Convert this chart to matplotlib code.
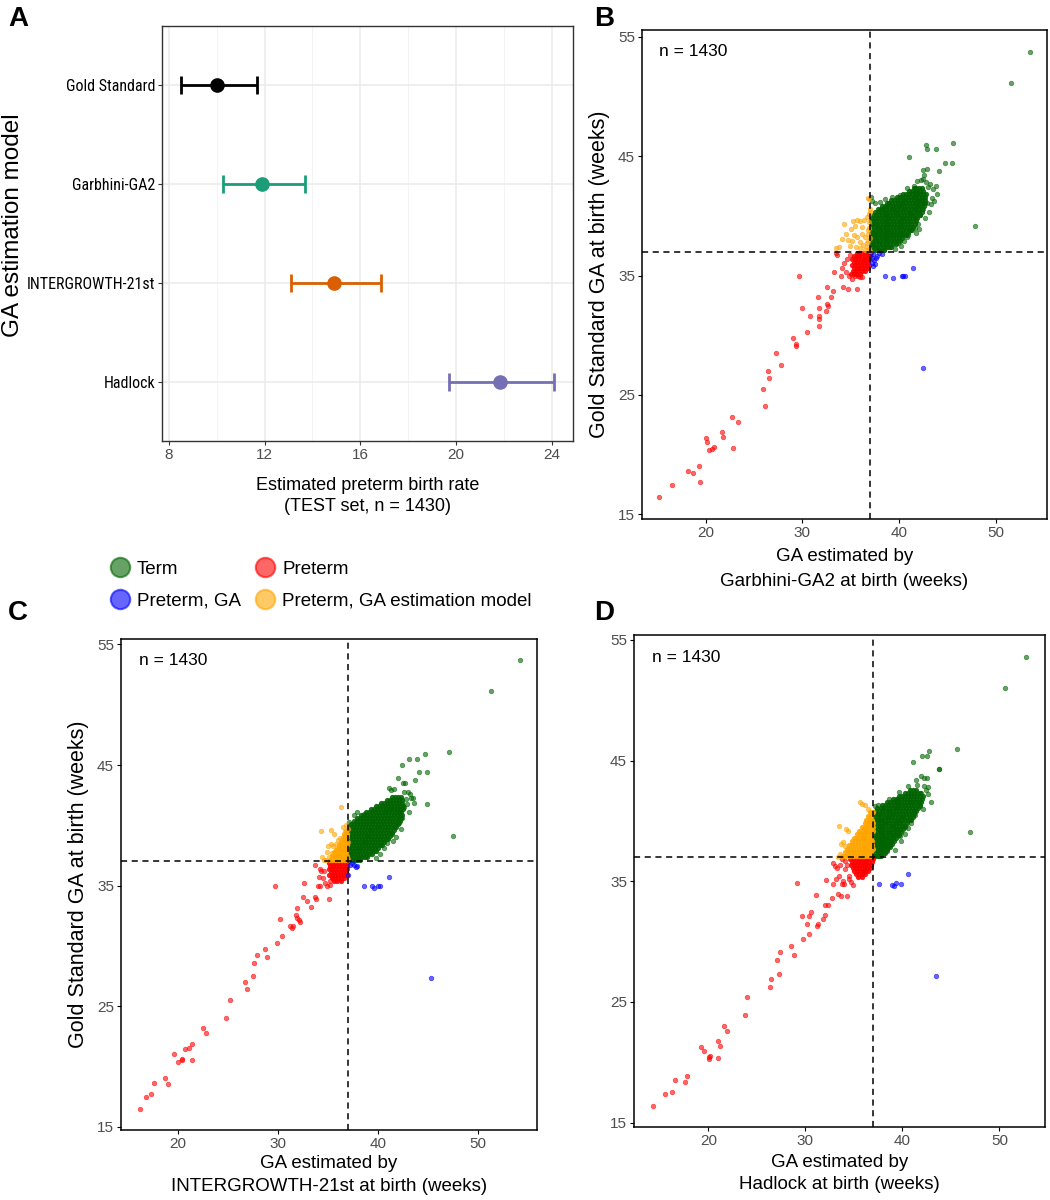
import matplotlib.pyplot as plt
from matplotlib import font_manager
from matplotlib.font_manager import FontProperties
from matplotlib.lines import Line2D

plt.rcParams['font.family'] = ['Liberation Sans', 'DejaVu Sans']

# ---- panel A: estimated preterm birth rate with CI ----
models = ["Gold Standard", "Garbhini-GA2", "INTERGROWTH-21st", "Hadlock"]
rate = [10.0, 11.9, 14.9, 21.85]
rate_lo = [8.5, 10.25, 13.1, 19.7]
rate_hi = [11.7, 13.7, 16.85, 24.07]
model_colors = ["black", "#1B9E77", "#D95F02", "#7570B3"]

# ---- panel B: Garbhini-GA2 (x) vs gold standard (y) ----
b_term = [(53.5, 53.75), (51.6, 51.1), (47.9, 39.15), (45.6, 46.1), (42.75, 45.95), (42.85, 45.55),
          (43.8, 45.55), (41.0, 44.95), (44.7, 44.4), (45.45, 44.4), (44.15, 43.75), (42.85, 43.95),
          (42.5, 43.8), (42.6, 43.45), (42.45, 43.1), (42.8, 42.85), (43.2, 42.7), (43.55, 42.2),
          (43.9, 41.85), (43.4, 41.45), (42.9, 41.05), (42.5, 40.6), (42.2, 40.1), (42.0, 39.3),
          (41.3, 38.8), (40.85, 38.2), (39.9, 37.7), (39.1, 37.4), (38.4, 37.15), (37.5, 41.1),
          (37.15, 41.25), (38.0, 41.15), (38.55, 41.4), (39.25, 41.55), (40.1, 41.7), (40.8, 42.35),
          (41.5, 42.5), (41.9, 42.9), (42.3, 43.0), (43.0, 42.4), (37.05, 41.6), (41.8, 38.6),
          (40.5, 37.9), (39.6, 37.2), (43.3, 41.0), (43.6, 41.2), (43.1, 40.3), (42.7, 39.8),
          (41.6, 39.0), (40.9, 38.4), (40.2, 37.5), (43.8, 42.5), (42.1, 38.9)]
b_term_rows = {
    37.1: [37.1, 37.35, 37.6, 37.9, 38.15, 38.45],
    37.35: [37.2, 37.5, 37.75, 38.05, 38.3, 38.6, 38.9, 39.2],
    37.6: [37.1, 37.35, 37.65, 37.9, 38.2, 38.5, 38.75, 39.05, 39.35, 39.7],
    37.85: [37.25, 37.5, 37.8, 38.05, 38.35, 38.6, 38.9, 39.2, 39.5, 39.8, 40.1],
    38.1: [37.1, 37.4, 37.65, 37.95, 38.2, 38.5, 38.8, 39.05, 39.35, 39.65, 39.95, 40.3],
    38.35: [37.2, 37.5, 37.8, 38.1, 38.35, 38.65, 38.95, 39.2, 39.5, 39.8, 40.1, 40.45, 40.7],
    38.6: [37.1, 37.35, 37.65, 37.9, 38.2, 38.5, 38.8, 39.1, 39.35, 39.65, 39.95, 40.25, 40.55, 40.9],
    38.85: [37.2, 37.5, 37.8, 38.05, 38.35, 38.65, 38.9, 39.2, 39.5, 39.8, 40.1, 40.4, 40.7, 41.0, 41.25],
    39.1: [37.1, 37.4, 37.7, 37.95, 38.25, 38.55, 38.8, 39.1, 39.4, 39.65, 39.95, 40.25, 40.55, 40.85, 41.15, 41.45],
    39.35: [37.2, 37.5, 37.75, 38.05, 38.35, 38.6, 38.9, 39.2, 39.5, 39.8, 40.05, 40.35, 40.65, 40.95, 41.25, 41.6],
    39.6: [37.1, 37.35, 37.65, 37.95, 38.2, 38.5, 38.8, 39.1, 39.35, 39.65, 39.95, 40.25, 40.5, 40.8, 41.1, 41.4, 41.75],
    39.85: [37.25, 37.55, 37.85, 38.1, 38.4, 38.7, 39.0, 39.25, 39.55, 39.85, 40.15, 40.4, 40.7, 41.0, 41.3, 41.6, 41.9],
    40.1: [37.3, 37.6, 37.9, 38.2, 38.5, 38.75, 39.05, 39.35, 39.65, 39.9, 40.2, 40.5, 40.8, 41.1, 41.35, 41.65, 41.95, 42.2],
    40.35: [37.5, 37.8, 38.1, 38.4, 38.65, 38.95, 39.25, 39.55, 39.8, 40.1, 40.4, 40.7, 41.0, 41.25, 41.55, 41.85, 42.1, 42.4],
    40.6: [37.8, 38.1, 38.35, 38.65, 38.95, 39.25, 39.5, 39.8, 40.1, 40.4, 40.65, 40.95, 41.25, 41.55, 41.8, 42.1, 42.4],
    40.85: [38.2, 38.5, 38.8, 39.1, 39.4, 39.65, 39.95, 40.25, 40.55, 40.85, 41.1, 41.4, 41.7, 42.0, 42.3, 42.55],
    41.1: [38.7, 39.0, 39.3, 39.55, 39.85, 40.15, 40.45, 40.7, 41.0, 41.3, 41.6, 41.9, 42.15, 42.45, 42.7],
    41.35: [39.2, 39.5, 39.8, 40.1, 40.4, 40.65, 40.95, 41.25, 41.55, 41.85, 42.1, 42.4, 42.7],
    41.6: [39.8, 40.1, 40.35, 40.65, 40.95, 41.25, 41.5, 41.8, 42.1, 42.4, 42.7],
    41.85: [40.4, 40.7, 41.0, 41.3, 41.6, 41.9, 42.2, 42.5, 42.75],
    42.1: [41.0, 41.3, 41.6, 41.9, 42.2, 42.5],
    42.35: [41.5, 41.8, 42.1, 42.35],
}
b_pre = [(15.17, 16.47), (16.48, 17.46), (18.17, 18.64), (18.66, 18.51), (19.28, 19.03), (19.45, 17.68),
         (20.03, 21.39), (20.1, 21.04), (20.34, 20.4), (20.62, 20.46), (20.9, 20.62), (21.66, 21.9),
         (21.8, 21.49), (22.72, 23.15), (22.83, 20.53), (23.34, 22.73), (25.9, 25.54), (26.17, 24.04),
         (26.48, 26.98), (26.52, 26.41), (27.24, 28.55), (27.76, 27.49), (29.03, 29.76), (29.34, 29.25),
         (29.34, 29.09), (29.62, 34.97), (29.97, 32.28), (30.48, 30.3), (30.79, 31.65), (31.66, 33.18),
         (31.69, 32.25), (31.69, 31.65), (31.76, 31.39), (31.69, 30.81), (32.45, 32.0), (32.55, 32.64),
         (32.62, 32.44), (32.55, 34.04), (32.97, 33.18), (33.2, 33.72), (33.28, 35.26), (33.48, 36.92),
         (33.55, 36.69), (33.97, 34.97), (34.1, 35.64), (34.17, 34.04), (34.76, 33.85), (34.86, 35.0),
         (35.69, 33.85), (35.97, 34.84), (34.6, 36.4), (34.9, 36.75), (34.3, 36.05), (34.5, 35.3),
         (35.1, 34.75), (35.4, 34.95), (35.75, 35.0), (36.2, 34.9)]
b_pre_rows = {
    36.85: [35.6, 35.9, 36.2, 36.5, 36.75, 36.95],
    36.6: [35.3, 35.6, 35.9, 36.2, 36.45, 36.75, 36.95],
    36.35: [35.15, 35.45, 35.75, 36.05, 36.35, 36.6, 36.9],
    36.1: [35.35, 35.65, 35.95, 36.25, 36.5, 36.8],
    35.85: [35.1, 35.45, 35.75, 36.05, 36.35, 36.65, 36.9],
    35.6: [35.3, 35.6, 35.9, 36.2, 36.5, 36.8],
    35.35: [35.2, 35.5, 35.8, 36.15, 36.5],
    35.1: [35.05, 35.35, 35.65, 36.0],
}
b_pga = [(37.28, 36.76), (37.69, 36.66), (38.21, 36.82), (37.41, 36.28), (37.52, 35.96), (37.2, 36.05),
         (37.1, 36.9), (37.15, 36.5), (37.9, 36.85), (37.6, 36.45), (37.3, 35.8), (38.59, 34.94),
         (39.41, 34.78), (40.28, 34.94), (40.45, 34.94), (40.66, 34.94), (41.48, 35.67), (42.52, 27.27)]
b_pgm = [(36.76, 41.52), (36.93, 41.39), (34.34, 39.31), (35.2, 39.54), (35.62, 39.63), (35.97, 39.54),
         (36.38, 39.63), (36.66, 39.86), (35.45, 39.15), (35.0, 38.93), (36.21, 39.09), (34.52, 38.51),
         (34.07, 38.04), (33.83, 37.4), (33.45, 37.3), (34.76, 37.94), (35.1, 37.88), (35.62, 38.19),
         (35.97, 37.81), (36.48, 38.19), (36.31, 37.56), (36.66, 37.4), (36.83, 38.83), (35.55, 37.4),
         (35.97, 37.3), (36.76, 37.88), (36.9, 37.24), (36.86, 40.11), (36.97, 40.59), (36.9, 39.5),
         (36.8, 38.5), (36.95, 38.1), (36.7, 37.7), (36.95, 37.05), (36.5, 37.1), (36.9, 39.0),
         (36.95, 40.3), (36.2, 38.5), (35.3, 38.4), (34.9, 37.5)]
b_pgm_rows = {}

# ---- panel C: INTERGROWTH-21st (x) vs gold standard (y) ----
c_term = [(54.17, 53.74), (51.33, 51.13), (47.53, 39.15), (47.13, 46.12), (44.73, 45.94), (43.93, 45.51),
          (43.07, 45.54), (42.4, 44.98), (44.13, 44.43), (44.9, 44.43), (42.0, 43.91), (42.5, 43.54),
          (42.73, 43.54), (43.7, 43.76), (41.07, 43.08), (42.63, 42.77), (42.97, 42.77), (43.23, 42.62),
          (44.93, 41.76), (43.57, 41.85), (43.07, 41.14), (42.07, 41.08), (42.4, 40.62), (42.07, 40.16),
          (41.83, 39.02), (41.4, 39.24), (40.2, 37.64), (39.37, 37.86), (38.23, 37.4), (37.57, 40.84),
          (37.9, 41.08), (38.57, 40.93), (37.1, 40.3), (42.8, 42.2), (43.3, 42.3), (41.3, 42.9),
          (41.6, 43.0), (40.9, 38.5), (39.8, 37.3), (42.6, 41.5), (42.3, 39.7), (41.5, 38.7),
          (40.6, 38.1), (43.5, 42.3), (42.9, 41.8)]
c_term_rows = {
    37.1: [37.1, 37.4, 37.7, 37.95, 38.25],
    37.35: [37.2, 37.5, 37.8, 38.1, 38.4, 38.7, 38.95],
    37.6: [37.1, 37.35, 37.65, 37.95, 38.25, 38.55, 38.85, 39.15, 39.45],
    37.85: [37.25, 37.55, 37.85, 38.1, 38.4, 38.7, 39.0, 39.3, 39.6, 39.85],
    38.1: [37.1, 37.4, 37.7, 38.0, 38.25, 38.55, 38.85, 39.15, 39.45, 39.75, 40.05],
    38.35: [37.25, 37.55, 37.85, 38.15, 38.45, 38.7, 39.0, 39.3, 39.6, 39.9, 40.2, 40.4],
    38.6: [37.1, 37.4, 37.7, 38.0, 38.3, 38.6, 38.85, 39.15, 39.45, 39.75, 40.05, 40.35, 40.65],
    38.85: [37.25, 37.55, 37.85, 38.15, 38.45, 38.75, 39.0, 39.3, 39.6, 39.9, 40.2, 40.5, 40.8, 41.0],
    39.1: [37.1, 37.4, 37.7, 38.0, 38.3, 38.6, 38.9, 39.15, 39.45, 39.75, 40.05, 40.35, 40.65, 40.95, 41.25],
    39.35: [37.25, 37.55, 37.85, 38.15, 38.45, 38.75, 39.05, 39.3, 39.6, 39.9, 40.2, 40.5, 40.8, 41.1, 41.45],
    39.6: [37.1, 37.4, 37.7, 38.0, 38.3, 38.6, 38.9, 39.2, 39.45, 39.75, 40.05, 40.35, 40.65, 40.95, 41.25, 41.6],
    39.85: [37.2, 37.5, 37.8, 38.1, 38.4, 38.7, 39.0, 39.3, 39.6, 39.9, 40.15, 40.45, 40.75, 41.05, 41.35, 41.65, 41.85],
    40.1: [37.35, 37.65, 37.95, 38.25, 38.55, 38.85, 39.15, 39.45, 39.7, 40.0, 40.3, 40.6, 40.9, 41.2, 41.5, 41.8, 42.0],
    40.35: [37.6, 37.9, 38.2, 38.5, 38.8, 39.1, 39.4, 39.65, 39.95, 40.25, 40.55, 40.85, 41.15, 41.45, 41.75, 42.05, 42.2],
    40.6: [37.95, 38.25, 38.55, 38.85, 39.15, 39.45, 39.75, 40.0, 40.3, 40.6, 40.9, 41.2, 41.5, 41.8, 42.1, 42.3],
    40.85: [38.35, 38.65, 38.95, 39.25, 39.55, 39.85, 40.15, 40.4, 40.7, 41.0, 41.3, 41.6, 41.9, 42.2, 42.4],
    41.1: [38.8, 39.1, 39.4, 39.7, 40.0, 40.3, 40.6, 40.85, 41.15, 41.45, 41.75, 42.05, 42.35],
    41.35: [39.3, 39.6, 39.9, 40.2, 40.5, 40.8, 41.1, 41.35, 41.65, 41.95, 42.25, 42.5],
    41.6: [39.8, 40.1, 40.4, 40.7, 41.0, 41.3, 41.6, 41.9, 42.2, 42.5],
    41.85: [40.35, 40.65, 40.95, 41.25, 41.55, 41.85, 42.15, 42.45],
    42.1: [40.9, 41.2, 41.5, 41.8, 42.1, 42.4],
    42.35: [41.4, 41.7, 42.0, 42.3],
}
c_pre = [(16.2, 16.5), (16.83, 17.49), (17.3, 17.73), (17.63, 18.66), (18.77, 19.06), (19.03, 18.53),
         (19.63, 21.05), (20.03, 20.41), (20.43, 20.5), (20.47, 20.65), (20.77, 21.42), (21.17, 21.51),
         (21.4, 21.88), (21.4, 20.5), (22.53, 23.17), (22.8, 22.74), (24.83, 24.03), (25.2, 25.51),
         (26.77, 26.98), (26.97, 26.4), (27.57, 27.5), (27.63, 28.55), (27.93, 29.25), (28.7, 29.78),
         (28.97, 29.07), (29.7, 34.97), (29.93, 30.27), (30.23, 32.24), (30.43, 30.79), (31.23, 31.62),
         (31.43, 31.5), (31.57, 31.68), (31.8, 32.57), (31.9, 32.3), (32.13, 32.17), (32.23, 31.96),
         (31.97, 33.16), (32.6, 35.25), (32.53, 34.05), (32.97, 33.71), (33.27, 33.19), (33.73, 34.02),
         (33.8, 33.86), (33.97, 34.94), (34.17, 34.94), (35.1, 33.86), (34.07, 35.71), (33.73, 36.72),
         (34.17, 36.41), (34.3, 36.17), (34.63, 36.17), (34.5, 35.65), (34.73, 35.25), (34.9, 34.94),
         (35.17, 35.06), (35.23, 35.4), (35.43, 35.71)]
c_pre_rows = {
    36.85: [35.1, 35.4, 35.7, 36.0, 36.3, 36.6, 36.9],
    36.6: [35.25, 35.55, 35.85, 36.15, 36.45, 36.75, 36.95],
    36.35: [35.1, 35.4, 35.7, 36.0, 36.3, 36.6, 36.9],
    36.1: [35.3, 35.6, 35.9, 36.2, 36.5, 36.8],
    35.85: [35.15, 35.45, 35.75, 36.05, 36.35, 36.65, 36.9],
    35.6: [35.4, 35.7, 36.0, 36.3, 36.6],
    35.35: [35.6, 35.95, 36.3],
}
c_pga = [(37.43, 36.86), (37.77, 36.58), (37.6, 36.7), (37.9, 36.63), (37.03, 35.9), (37.2, 36.75),
         (38.57, 34.94), (39.43, 34.94), (39.57, 34.78), (40.0, 34.94), (40.17, 34.94), (41.1, 35.71),
         (45.27, 27.32)]
c_pgm = [(36.27, 41.54), (34.27, 39.49), (35.33, 39.61), (35.57, 39.3), (35.97, 38.75), (36.5, 39.85),
         (36.73, 39.55), (35.0, 38.32), (35.27, 38.47), (35.53, 38.26), (35.77, 38.47), (36.1, 38.16),
         (36.43, 38.47), (36.73, 38.78), (36.9, 39.24), (34.87, 37.77), (35.13, 37.4), (35.43, 37.7),
         (35.77, 37.4), (36.1, 37.55), (36.43, 37.24), (36.73, 37.55), (36.97, 37.24), (36.83, 38.0),
         (36.57, 37.86), (36.97, 38.62), (37.0, 39.7), (36.23, 38.93), (35.83, 37.95), (34.63, 37.15),
         (34.4, 37.4), (34.8, 37.1), (36.7, 39.1), (36.95, 39.0), (36.85, 40.0)]
c_pgm_rows = {
    37.15: [35.2, 35.5, 35.8, 36.1, 36.4, 36.7, 36.95],
    37.45: [35.4, 35.7, 36.0, 36.3, 36.6, 36.9],
    37.75: [35.6, 35.9, 36.2, 36.5, 36.8],
    38.05: [35.9, 36.2, 36.5, 36.8],
    38.35: [36.1, 36.4, 36.7, 36.95],
    38.65: [36.3, 36.6, 36.9],
    38.95: [36.5, 36.8],
    39.25: [36.6, 36.9],
    39.55: [36.8],
}

# ---- panel D: Hadlock (x) vs gold standard (y) ----
d_term = [(52.78, 53.62), (50.62, 51.01), (46.98, 39.05), (45.6, 45.98), (42.75, 45.83), (42.03, 45.4),
          (42.51, 45.4), (41.1, 44.85), (43.75, 44.29), (43.82, 44.29), (41.37, 43.37), (41.89, 43.74),
          (42.23, 43.59), (42.54, 43.59), (40.62, 42.91), (42.92, 41.6), (42.1, 40.98), (40.62, 39.45),
          (40.27, 38.9), (39.76, 38.74), (39.24, 37.61), (38.38, 37.55), (37.7, 37.15), (39.69, 42.36),
          (42.4, 42.6), (42.6, 42.2), (42.2, 42.9), (41.5, 42.95), (41.0, 41.6), (40.8, 40.2),
          (40.3, 39.5), (38.6, 41.8), (37.5, 41.3), (37.2, 41.2), (41.8, 41.2), (41.3, 40.5),
          (40.9, 39.8), (39.9, 38.3), (42.6, 42.8), (41.9, 42.3)]
d_term_rows = {
    37.1: [37.1, 37.35, 37.6, 37.85],
    37.35: [37.2, 37.45, 37.75, 38.0, 38.25],
    37.6: [37.1, 37.35, 37.6, 37.9, 38.15, 38.45],
    37.85: [37.2, 37.5, 37.75, 38.0, 38.3, 38.55, 38.75],
    38.1: [37.1, 37.35, 37.65, 37.9, 38.2, 38.45, 38.7, 38.95],
    38.35: [37.2, 37.5, 37.75, 38.05, 38.3, 38.6, 38.85, 39.15],
    38.6: [37.1, 37.35, 37.65, 37.9, 38.2, 38.45, 38.75, 39.0, 39.35],
    38.85: [37.2, 37.5, 37.8, 38.05, 38.35, 38.6, 38.9, 39.15, 39.45, 39.7],
    39.1: [37.1, 37.35, 37.65, 37.95, 38.2, 38.5, 38.75, 39.05, 39.3, 39.6, 39.9],
    39.35: [37.2, 37.5, 37.8, 38.05, 38.35, 38.65, 38.9, 39.2, 39.45, 39.75, 40.1],
    39.6: [37.1, 37.35, 37.65, 37.95, 38.2, 38.5, 38.8, 39.05, 39.35, 39.65, 39.95, 40.3],
    39.85: [37.2, 37.5, 37.8, 38.1, 38.35, 38.65, 38.95, 39.2, 39.5, 39.8, 40.1, 40.45],
    40.1: [37.1, 37.4, 37.7, 37.95, 38.25, 38.55, 38.8, 39.1, 39.4, 39.7, 39.95, 40.25, 40.6, 40.85],
    40.35: [37.2, 37.5, 37.8, 38.1, 38.4, 38.65, 38.95, 39.25, 39.55, 39.85, 40.1, 40.4, 40.75, 41.05],
    40.6: [37.15, 37.45, 37.7, 38.0, 38.3, 38.6, 38.9, 39.15, 39.45, 39.75, 40.05, 40.35, 40.65, 40.95, 41.25],
    40.85: [37.3, 37.6, 37.9, 38.2, 38.5, 38.75, 39.05, 39.35, 39.65, 39.95, 40.25, 40.55, 40.85, 41.15, 41.4],
    41.1: [37.4, 37.75, 38.05, 38.35, 38.65, 38.95, 39.25, 39.5, 39.8, 40.1, 40.4, 40.7, 41.0, 41.3, 41.6],
    41.35: [37.9, 38.2, 38.5, 38.8, 39.1, 39.4, 39.7, 40.0, 40.3, 40.6, 40.9, 41.2, 41.5, 41.8],
    41.6: [38.4, 38.7, 39.0, 39.3, 39.6, 39.9, 40.2, 40.5, 40.8, 41.1, 41.4, 41.7, 41.95],
    41.85: [39.0, 39.3, 39.6, 39.9, 40.2, 40.5, 40.8, 41.1, 41.4, 41.7, 42.0],
    42.1: [39.7, 40.0, 40.3, 40.6, 40.9, 41.2, 41.5, 41.8, 42.1],
    42.35: [40.3, 40.6, 40.9, 41.2, 41.5, 41.8],
    42.6: [40.8, 41.1, 41.4],
}
d_pre = [(14.26, 16.38), (15.57, 17.36), (16.25, 17.58), (16.6, 18.5), (17.63, 18.37), (17.77, 18.9),
         (19.24, 21.26), (19.55, 20.92), (20.03, 20.43), (20.1, 20.28), (20.17, 20.49), (21.03, 20.37),
         (20.96, 21.75), (21.2, 21.35), (21.62, 23.04), (21.96, 22.58), (23.78, 23.9), (23.95, 25.4),
         (26.36, 26.26), (26.46, 26.87), (27.04, 28.44), (27.25, 27.36), (27.39, 29.14), (28.56, 29.63),
         (28.83, 28.93), (29.18, 34.82), (29.62, 32.09), (29.76, 30.18), (30.14, 31.47), (30.34, 30.67),
         (30.34, 32.09), (30.55, 32.45), (31.1, 33.9), (31.17, 31.26), (31.27, 31.47), (31.79, 31.84),
         (32.03, 32.21), (32.06, 33.04), (32.37, 33.04), (32.1, 35.12), (32.71, 33.59), (32.89, 34.79),
         (33.16, 35.15), (33.4, 33.93), (33.64, 33.77), (34.33, 33.74), (33.75, 34.79), (33.99, 34.79),
         (33.85, 35.0), (32.89, 36.53), (33.06, 36.26), (33.3, 36.07), (33.5, 35.46), (33.57, 36.32),
         (34.09, 36.01), (34.54, 35.15), (34.88, 34.69), (34.67, 34.91), (34.5, 35.46), (34.26, 36.38),
         (33.8, 36.85), (34.1, 36.7)]
d_pre_rows = {
    36.85: [34.6, 34.9, 35.2, 35.5, 35.8, 36.1, 36.4, 36.7, 36.95],
    36.6: [34.8, 35.1, 35.4, 35.7, 36.0, 36.3, 36.6, 36.9],
    36.35: [34.7, 35.0, 35.3, 35.6, 35.9, 36.2, 36.5, 36.8],
    36.1: [34.9, 35.2, 35.5, 35.8, 36.1, 36.4, 36.7],
    35.85: [35.0, 35.3, 35.6, 35.9, 36.2, 36.5],
    35.6: [35.2, 35.5, 35.8, 36.1],
    35.35: [35.4, 35.8],
}
d_pga = [(37.6, 34.79), (38.97, 34.72), (39.14, 34.63), (39.35, 34.82), (39.9, 34.79), (40.62, 35.58),
         (43.47, 27.18)]
d_pgm = [(35.81, 41.44), (33.43, 39.6), (34.2, 39.3), (33.7, 38.1), (36.5, 41.0), (35.66, 41.56),
         (36.2, 41.3), (34.36, 39.14), (33.92, 38.22), (34.12, 37.91), (33.57, 37.3), (33.4, 37.05)]
d_pgm_rows = {
    37.1: [33.8, 34.1, 34.4, 34.7, 35.0, 35.3, 35.6, 35.9, 36.2, 36.5, 36.8],
    37.4: [34.1, 34.4, 34.7, 35.0, 35.3, 35.6, 35.9, 36.2, 36.5, 36.8],
    37.7: [34.3, 34.6, 34.9, 35.2, 35.5, 35.8, 36.1, 36.4, 36.7, 36.95],
    38.0: [34.5, 34.8, 35.1, 35.4, 35.7, 36.0, 36.3, 36.6, 36.9],
    38.3: [34.8, 35.1, 35.4, 35.7, 36.0, 36.3, 36.6, 36.9],
    38.6: [35.0, 35.3, 35.6, 35.9, 36.2, 36.5, 36.8],
    38.9: [35.3, 35.6, 35.9, 36.2, 36.5, 36.8],
    39.2: [35.5, 35.8, 36.1, 36.4, 36.7, 36.95],
    39.5: [35.8, 36.1, 36.4, 36.7, 36.95],
    39.8: [36.1, 36.4, 36.7, 36.95],
    40.1: [36.3, 36.6, 36.9],
    40.4: [36.5, 36.8],
    40.7: [36.7, 36.95],
}

cat_colors = {"term": "#006400", "pre": "#FF0000", "pga": "#0000FF", "pgm": "#FFA500"}
cat_labels = {"term": "Term", "pre": "Preterm", "pga": "Preterm, GA",
              "pgm": "Preterm, GA estimation model"}


def narrow_font():
    # a condensed sans face for panel A's category labels, if one is installed
    prefer = ["Liberation Sans Narrow", "Roboto Condensed", "Noto Sans", "Open Sans", "DejaVu Sans"]
    found = {}
    for f in font_manager.fontManager.ttflist:
        cond = f.stretch in ("condensed", "semi-condensed", "extra-condensed") or \
            "Narrow" in f.name or "Condensed" in f.name
        if cond and f.style == "normal" and f.weight in (400, "normal", "regular", "book"):
            for p in prefer:
                if f.name.startswith(p) and p not in found:
                    found[p] = f.fname
    for p in prefer:
        if p in found:
            return found[p], p
    return None, None


def collect(pts):
    return [p[0] for p in pts], [p[1] for p in pts]


def collect_rows(rows):
    xs, ys = [], []
    for y, row in rows.items():
        xs += row
        ys += [y] * len(row)
    return xs, ys


def scatter_panel(ax, groups, xlim, ylim, xlabel, ylabel=None, xpad=3, lsp=1.45):
    for key, (pts, rows) in groups.items():
        xs, ys = collect(pts)
        ax.scatter(xs, ys, s=11, c=cat_colors[key], alpha=0.6, edgecolors=cat_colors[key], linewidths=0.5)
        # dense cores: overlapping points saturate the colour
        rx, ry = collect_rows(rows)
        ax.scatter(rx, ry, s=14, c=cat_colors[key], alpha=0.9, linewidths=0)
    ax.axvline(37, color="black", ls=(0, (4, 3)), lw=1.1)
    ax.axhline(37, color="black", ls=(0, (4, 3)), lw=1.1)
    ax.set_xlim(*xlim)
    ax.set_ylim(*ylim)
    ax.set_xticks([20, 30, 40, 50])
    ax.set_yticks([15, 25, 35, 45, 55])
    ax.tick_params(labelsize=11, labelcolor="#4D4D4D", length=3, width=0.8, pad=2)
    for sp in ax.spines.values():
        sp.set_linewidth(1.1)
    ax.text(0.043, 0.955, "n = 1430", transform=ax.transAxes, fontsize=12.5, va="center")
    ax.set_xlabel(xlabel, fontsize=13.5, labelpad=xpad, linespacing=lsp)
    if ylabel:
        ax.set_ylabel(ylabel, fontsize=15.5, labelpad=6)


fig = plt.figure(figsize=(10.5, 12), dpi=100)

# panel A
axA = fig.add_axes([0.1543, 0.6325, 0.3914, 0.3458])
ypos = list(range(1, len(models) + 1))
for i in range(len(models)):
    axA.errorbar(rate[i], ypos[i], xerr=[[rate[i] - rate_lo[i]], [rate_hi[i] - rate[i]]],
                 fmt="o", color=model_colors[i], markersize=9.5, elinewidth=2.0, capsize=6.5, capthick=2.0)
axA.set_xlim(7.72, 24.88)
axA.set_ylim(4.6, 0.4)
axA.set_yticks(ypos)
nfile, nname = narrow_font()
if nfile is not None and nname != "DejaVu Sans":
    ylab_prop = FontProperties(fname=nfile, size=11.5)
else:
    ylab_prop = FontProperties(family="Liberation Sans", size=10)
axA.set_yticklabels(models, fontproperties=ylab_prop, color="black")
axA.set_xticks([8, 12, 16, 20, 24])
axA.set_xticks([10, 14, 18, 22], minor=True)
axA.grid(True, which="major", color="#EBEBEB", lw=1.1)
axA.grid(True, which="minor", axis="x", color="#F2F2F2", lw=0.6)
axA.set_axisbelow(True)
axA.tick_params(axis="x", labelsize=11, labelcolor="#4D4D4D", length=3, color="#333333", pad=2)
axA.tick_params(axis="x", which="minor", length=0)
axA.tick_params(axis="y", length=3, color="#333333", pad=2)
for sp in axA.spines.values():
    sp.set_color("#333333")
    sp.set_linewidth(1.0)
axA.set_xlabel("Estimated preterm birth rate\n(TEST set, n = 1430)", fontsize=13, labelpad=11,
               linespacing=1.3)
fig.text(0.012, 1 - 225 / 1200, "GA estimation model", rotation=90, fontsize=17.5, va="center", ha="center")

# panel B
axB = fig.add_axes([0.6114, 0.5678, 0.3857, 0.4075])
scatter_panel(axB, {"term": (b_term, b_term_rows), "pre": (b_pre, b_pre_rows),
                    "pga": (b_pga, {}), "pgm": (b_pgm, b_pgm_rows)},
              (13.4, 55.3), (14.65, 55.58),
              "GA estimated by\nGarbhini-GA2 at birth (weeks)", "Gold Standard GA at birth (weeks)",
              xpad=6, lsp=1.6)

# panel C
axC = fig.add_axes([0.1152, 0.0583, 0.3962, 0.4096])
scatter_panel(axC, {"term": (c_term, c_term_rows), "pre": (c_pre, c_pre_rows),
                    "pga": (c_pga, {}), "pgm": (c_pgm, c_pgm_rows)},
              (14.33, 55.9), (14.73, 55.49),
              "GA estimated by\nINTERGROWTH-21st at birth (weeks)", "Gold Standard GA at birth (weeks)", xpad=3)

# panel D
axD = fig.add_axes([0.6038, 0.0608, 0.3914, 0.41])
scatter_panel(axD, {"term": (d_term, d_term_rows), "pre": (d_pre, d_pre_rows),
                    "pga": (d_pga, {}), "pgm": (d_pgm, d_pgm_rows)},
              (12.34, 54.7), (14.64, 55.4),
              "GA estimated by\nHadlock at birth (weeks)", xpad=4)

# legend
order = ["term", "pga", "pre", "pgm"]
handles = [Line2D([], [], ls="", marker="o", markersize=14, markerfacecolor=cat_colors[k],
                  markeredgecolor=cat_colors[k], markeredgewidth=1.5, alpha=0.6) for k in order]
fig.legend(handles, [cat_labels[k] for k in order], ncol=2, loc="center left",
           bbox_to_anchor=(92 / 1050, 1 - 585 / 1200), frameon=False, fontsize=13.5,
           handletextpad=0.3, columnspacing=0.7, labelspacing=0.75, handlelength=1.2)

# panel letters
for letter, (px, py) in {"A": (8, 6), "B": (594, 6), "C": (8, 600), "D": (594, 600)}.items():
    fig.text(px / 1050, 1 - py / 1200, letter, fontsize=20, fontweight="bold", va="top", ha="left")

fig.savefig("out.png", dpi=100)
